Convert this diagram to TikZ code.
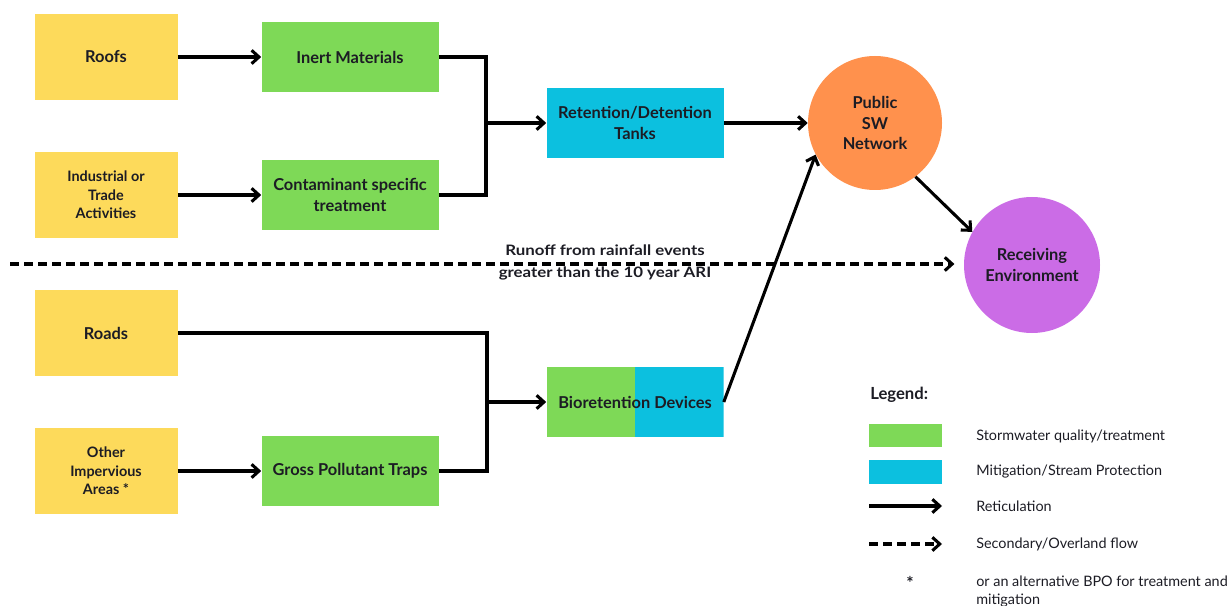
\documentclass[tikz,border=0pt]{standalone}
\usepackage{fontspec}
\setmainfont{Lato}
\newfontfamily\widefont[FakeStretch=1.17]{Lato}
\usetikzlibrary{arrows.meta}

\definecolor{srcyellow}{HTML}{FDDA5B}
\definecolor{treatgreen}{HTML}{7ED957}
\definecolor{mitblue}{HTML}{0CC0DF}
\definecolor{netorange}{HTML}{FF914D}
\definecolor{envpurple}{HTML}{CB6CE6}
\definecolor{inkdark}{HTML}{1C1C24}

\tikzset{
  box/.style={rectangle, inner sep=2pt, align=center, text=inkdark,
    font=\bfseries\fontsize{12.3}{15.75}\selectfont},
  source/.style={box, fill=srcyellow, minimum width=107.25pt, minimum height=64.5pt},
  smallsrc/.style={source, font=\bfseries\fontsize{10.8}{14}\selectfont},
  treat/.style={box, fill=treatgreen, minimum width=132.75pt, minimum height=52.5pt},
  mitig/.style={box, fill=mitblue, minimum width=132.75pt, minimum height=52.5pt},
  hub/.style={circle, inner sep=0pt, align=center, text=inkdark,
    font=\bfseries\fontsize{12.3}{15.4}\selectfont},
  flow/.style={line width=2.3pt, draw=black, -{Straight Barb[length=5.5pt,width=10pt,line width=2.3pt]}},
  link/.style={line width=2.3pt, draw=black},
  overland/.style={flow, dash pattern=on 7pt off 3.5pt},
  legtext/.style={anchor=west, inner sep=0pt, text=inkdark, font=\fontsize{10.8}{13}\selectfont, align=left},
  runoff/.style={anchor=base, inner sep=0pt, text=inkdark, font=\widefont\bfseries\fontsize{10.8}{12}\selectfont},
}

\begin{document}
\begin{tikzpicture}[x=0.75pt, y=-0.75pt]
\useasboundingbox (0,0) rectangle (1232,606);

% Sources
\node[source] (roofs) at (106,57) {Roofs};
\node[smallsrc] (industry) at (106,195) {Industrial or\\Trade\\Activities};
\node[source] (roads) at (106,333) {Roads};
\node[smallsrc] (other) at (106,471) {Other\\Impervious\\Areas *};

% Treatment devices
\node[treat] (inert) at (350,57) {Inert Materials};
\node[treat] (contam) at (350,195) {Contaminant specific\\treatment};
\node[treat] (gpt) at (350,471) {Gross Pollutant Traps};
\node[mitig] (tanks) at (635,123) {Retention/Detention\\Tanks};
\node[box, minimum width=132.75pt, minimum height=52.5pt,
  path picture={
    \fill[treatgreen] (path picture bounding box.south west) rectangle (path picture bounding box.north);
    \fill[mitblue] (path picture bounding box.south) rectangle (path picture bounding box.north east);
  }] (bio) at (635,402) {Bioretention Devices};

% Network and receiving environment
\node[hub, fill=netorange, minimum size=100.5pt] (public) at (875,123) {Public\\SW\\Network};
\node[hub, fill=envpurple, minimum size=102pt] (recv) at (1032,265) {Receiving\\Environment};

% Junctions
\coordinate (jtop) at (486,123);
\coordinate (jbot) at (487,402);
\coordinate (dstart) at (10,264);

% Reticulation
\draw[flow] (roofs) -- (inert);
\draw[flow] (industry) -- (contam);
\draw[flow] (other) -- (gpt);
\draw[link] (inert.east) -| (jtop);
\draw[link] (contam.east) -| (jtop);
\draw[flow] (jtop) -- (tanks.west);
\draw[link] (roads.east) -| (jbot);
\draw[link] (gpt.east) -| (jbot);
\draw[flow] (jbot) -- (bio.west);
\draw[flow] (tanks.east) -- (public.west);
\draw[flow] (bio.east) -- (public.208);
\draw[flow] (public.307) -- (recv.151);

% Overland flow
\draw[overland, shorten >=7pt] (dstart) -- (recv.west |- dstart);
\node[runoff] (runoffa) at (605,256) {Runoff from rainfall events};
\node[runoff] (runoffb) at (605,277) {greater than the 10 year ARI};

% Legend
\node[anchor=west, inner sep=0pt, text=inkdark, font=\bfseries\fontsize{12.5}{14}\selectfont] (legtitle) at (870,395) {Legend:};
\node[fill=treatgreen, minimum width=54.75pt, minimum height=17.5pt, inner sep=0pt] (leggreen) at (905.5,435.5) {};
\node[fill=mitblue, minimum width=54.75pt, minimum height=18pt, inner sep=0pt] (legblue) at (905.5,472) {};
\coordinate (solida) at (869,506);
\coordinate (solidb) at (942,506);
\coordinate (dasha) at (869,544);
\coordinate (dashb) at (942,544);
\draw[flow] (solida) -- (solidb);
\draw[overland] (dasha) -- (dashb);
\node[inner sep=0pt, text=inkdark, font=\bfseries\fontsize{13}{13}\selectfont] (legstar) at (910,583) {*};
\node[legtext] (lg1) at (976,436) {Stormwater quality/treatment};
\node[legtext] (lg2) at (976,472) {Mitigation/Stream Protection};
\node[legtext] (lg3) at (976,506) {Reticulation};
\node[legtext] (lg4) at (976,544) {Secondary/Overland flow};
\node[legtext, anchor=north west] (lg5) at (976,576) {or an alternative BPO for treatment and\\mitigation};
\end{tikzpicture}
\end{document}
